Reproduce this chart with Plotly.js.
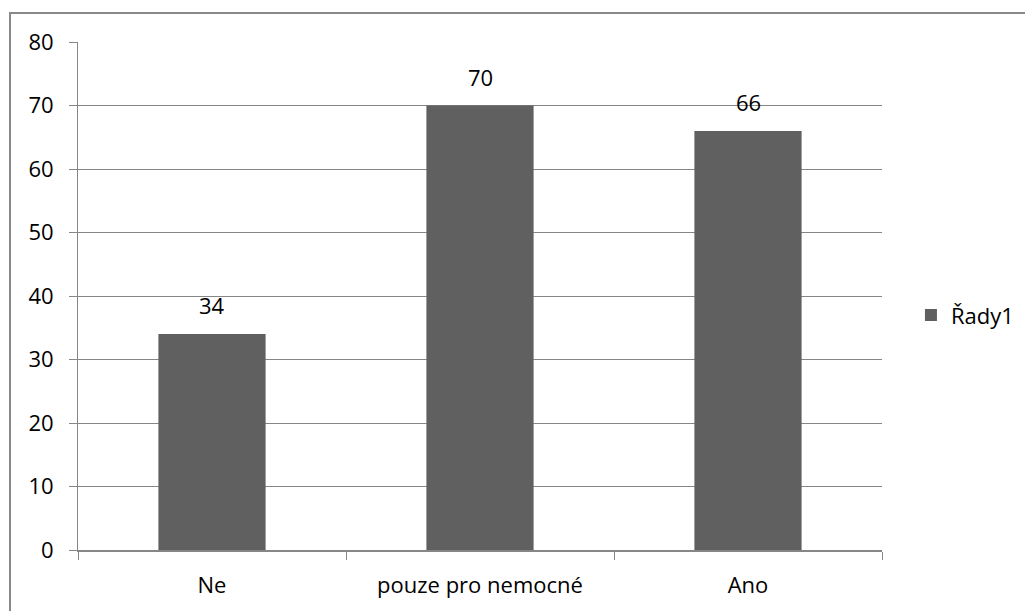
<!DOCTYPE html>
<html>
<head>
<meta charset="utf-8">
<script src="https://cdn.plot.ly/plotly-3.0.1.min.js"></script>
<style>
  html, body { margin: 0; padding: 0; background: #fff; }
  #wrap { position: relative; width: 1025px; height: 611px; overflow: hidden; }
  #chart { position: absolute; left: 0; top: 0; width: 1025px; height: 611px; }
  #frame { position: absolute; left: 9px; top: 12px; width: 1040px; height: 640px;
           border-left: 2px solid #898989; border-top: 2px solid #898989; pointer-events: none; }
</style>
</head>
<body>
<div id="wrap">
  <div id="chart"></div>
  <div id="frame"></div>
</div>
<script>
// Odpovědi a počty respondentů
const categories = ['Ne', 'pouze pro nemocné', 'Ano'];
const values = [34, 70, 66];
const seriesName = 'Řady1';
const yTicks = [0, 10, 20, 30, 40, 50, 60, 70, 80];

const FONT = 'Open Sans, Noto Sans, sans-serif';
const FS = 22;
const barColor = '#606060';
const lineColor = '#868686';

const trace = {
  type: 'bar',
  x: categories,
  y: values,
  name: seriesName,
  marker: { color: barColor, line: { width: 0 } },
  showlegend: true,
  hoverinfo: 'x+y'
};

// Popisky hodnot nad sloupci
const labels = categories.map((c, i) => ({
  x: c, y: values[i], xref: 'x', yref: 'y',
  text: String(values[i]), showarrow: false,
  yanchor: 'bottom', yshift: 12,
  font: { family: FONT, size: FS, color: '#000' }
}));

const layout = {
  width: 1025, height: 611,
  margin: { l: 78, r: 143, t: 42, b: 61, autoexpand: false },
  paper_bgcolor: '#fff', plot_bgcolor: '#fff',
  bargap: 0.6,
  font: { family: FONT, size: FS, color: '#000' },
  xaxis: {
    type: 'category',
    range: [-0.5, 2.5],
    automargin: false,
    showline: true, linecolor: lineColor, linewidth: 2,
    ticks: 'outside', tickson: 'boundaries', ticklen: 8, tickcolor: lineColor, tickwidth: 1,
    showgrid: false, zeroline: false,
    tickfont: { family: FONT, size: FS, color: '#000' },
    ticklabelstandoff: 15
  },
  yaxis: {
    range: [0, 80],
    automargin: false,
    tickvals: yTicks,
    ticktext: yTicks.map(String),
    showline: true, linecolor: lineColor, linewidth: 1,
    ticks: 'outside', ticklen: 8, tickcolor: lineColor, tickwidth: 1,
    showgrid: true, gridcolor: lineColor, gridwidth: 1,
    zeroline: false,
    tickfont: { family: FONT, size: FS, color: '#000' },
    ticklabelstandoff: 11
  },
  legend: {
    x: 1.036, y: 0.462, xanchor: 'left', yanchor: 'middle',
    font: { family: FONT, size: FS, color: '#000' },
    bgcolor: 'rgba(0,0,0,0)', borderwidth: 0,
    itemwidth: 30
  },
  annotations: labels
};

Plotly.newPlot('chart', [trace], layout, { displayModeBar: false, staticPlot: true });
</script>
</body>
</html>
